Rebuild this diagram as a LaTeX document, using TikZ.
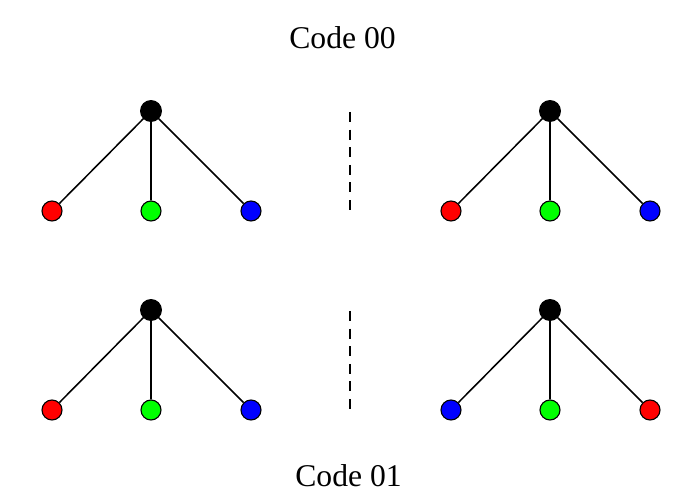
\documentclass[tikz,border=0pt]{standalone}
\usepackage{fontspec}
\setmainfont{Liberation Serif}
\begin{document}
\begin{tikzpicture}[x=0.025cm,y=-0.025cm,
        root/.style={circle,draw,fill=black,line width=0.8pt,minimum size=0.52cm,inner sep=0pt},
        leaf/.style={circle,draw,fill=#1,line width=0.8pt,minimum size=0.5cm,inner sep=0pt},
        edge/.style={line width=1.1pt},
        sep/.style={line width=1.1pt,dash pattern=on 0.25cm off 0.19cm},
        label/.style={font=\fontsize{22.5}{27}\selectfont,anchor=base,inner sep=0pt}]
        \useasboundingbox (0,0) rectangle (700,504);

        \node[label] (title) at (342.5,49) {Code 00};
        \node[label] (code) at (348.5,487) {Code 01};

        % top row
        \node[root] (ra) at (151,111) {};
        \node[leaf=red] (a1) at (52,211) {};
        \node[leaf=green] (a2) at (151,211) {};
        \node[leaf=blue] (a3) at (251,211) {};
        \node[root] (rb) at (550,111) {};
        \node[leaf=red] (b1) at (451,211) {};
        \node[leaf=green] (b2) at (550,211) {};
        \node[leaf=blue] (b3) at (650,211) {};

        % bottom row
        \node[root] (rc) at (151,310) {};
        \node[leaf=red] (c1) at (52,410) {};
        \node[leaf=green] (c2) at (151,410) {};
        \node[leaf=blue] (c3) at (251,410) {};
        \node[root] (rd) at (550,310) {};
        \node[leaf=blue] (d1) at (451,410) {};
        \node[leaf=green] (d2) at (550,410) {};
        \node[leaf=red] (d3) at (650,410) {};

        \coordinate (s1) at (350,112);
        \coordinate (s2) at (350,212);
        \coordinate (s3) at (350,311);
        \coordinate (s4) at (350,411);

        \draw[edge] (ra)--(a1) (ra)--(a2) (ra)--(a3);
        \draw[edge] (rb)--(b1) (rb)--(b2) (rb)--(b3);
        \draw[edge] (rc)--(c1) (rc)--(c2) (rc)--(c3);
        \draw[edge] (rd)--(d1) (rd)--(d2) (rd)--(d3);

        \draw[sep] (s1)--(s2);
        \draw[sep] (s3)--(s4);
\end{tikzpicture}
\end{document}
